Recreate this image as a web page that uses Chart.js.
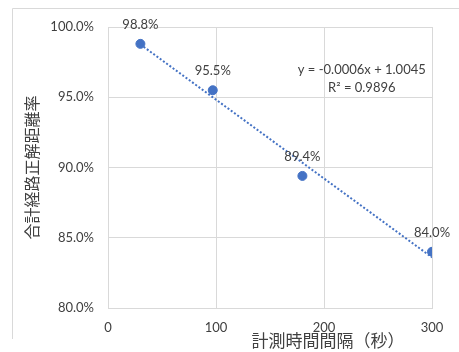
<!DOCTYPE html>
<html lang="ja">
<head>
    <meta charset="UTF-8">
    <title>計測時間間隔と合計経路正解距離率</title>
    <script src="https://cdn.jsdelivr.net/npm/chart.js@4.4.1/dist/chart.umd.min.js"></script>
    <style type="text/css">
        body{ margin:0; background:#fff; }
        #wrap{ width:459px; height:352px; position:relative; }
    </style>
</head>
<body>
<div id="wrap"><canvas id="scatterChart" width="459" height="352"></canvas></div>
<script type="text/javascript">
    // data
    var intervals = [30, 97, 180, 300];            // 計測時間間隔（秒）
    var rates = [0.988, 0.955, 0.894, 0.840];       // 合計経路正解距離率
    var yTicks = [0.80, 0.85, 0.90, 0.95, 1.00];
    var xTicks = [0, 100, 200, 300];
    var eqnLines = ["y = -0.0006x + 1.0045", "R\u00B2 = 0.9896"];
    var xTitle = "計測時間間隔（秒）";
    var yTitle = "合計経路正解距離率";

    // linear trendline (least squares, like Excel)
    var n = intervals.length, mx = 0, my = 0;
    for (var i = 0; i < n; i++) { mx += intervals[i]; my += rates[i]; }
    mx /= n; my /= n;
    var sxy = 0, sxx = 0;
    for (var i = 0; i < n; i++) {
        sxy += (intervals[i] - mx) * (rates[i] - my);
        sxx += (intervals[i] - mx) * (intervals[i] - mx);
    }
    var slope = sxy / sxx, icpt = my - slope * mx;
    var xMin = Math.min.apply(null, intervals), xMax = Math.max.apply(null, intervals);
    var trend = [{x: xMin, y: icpt + slope * xMin}, {x: xMax, y: icpt + slope * xMax}];

    var pts = intervals.map(function(v, i){ return {x: v, y: rates[i]}; });

    var numFont = "Lato, 'Noto Sans CJK JP', sans-serif";
    var cjkFont = "'Noto Sans CJK JP', sans-serif";
    var textCol = '#404040';

    var extras = {
        id: 'extras',
        beforeDraw: function(chart) {
            var c = chart.ctx;
            c.save();
            c.strokeStyle = '#d9d9d9';
            c.lineWidth = 1;
            c.beginPath();
            c.moveTo(12.5, 339); c.lineTo(12.5, 8.5); c.lineTo(459, 8.5);
            c.stroke();
            c.restore();
        },
        afterDatasetsDraw: function(chart) {
            var c = chart.ctx, xs = chart.scales.x, ys = chart.scales.y;
            c.save();
            // data labels
            c.font = "13px " + numFont;
            c.fillStyle = textCol;
            c.textAlign = 'center';
            c.textBaseline = 'middle';
            chart.getDatasetMeta(1).data.forEach(function(p, i){
                c.fillText((rates[i] * 100).toFixed(1) + '%', p.x, p.y - 19);
            });
            // trendline equation
            var ex = xs.getPixelForValue(235), ey = ys.getPixelForValue(0.9693);
            c.fillText(eqnLines[0], ex, ey);
            c.fillText(eqnLines[1], ex, ey + 18);
            // x axis title
            c.font = "17px " + cjkFont;
            c.fillText(xTitle, 328, 341);
            c.restore();
        }
    };

    new Chart(document.getElementById('scatterChart'), {
        type: 'scatter',
        data: {
            datasets: [
                {
                    data: trend,
                    showLine: true,
                    borderColor: '#4472C4',
                    borderWidth: 2,
                    borderDash: [2, 2],
                    pointRadius: 0,
                    fill: false
                },
                {
                    data: pts,
                    backgroundColor: '#4472C4',
                    borderColor: '#4472C4',
                    pointRadius: 4.5,
                    pointHoverRadius: 4.5
                }
            ]
        },
        options: {
            responsive: false,
            animation: false,
            layout: { padding: { left: 0, right: 27, top: 27, bottom: 0 } },
            plugins: { legend: { display: false }, tooltip: { enabled: false } },
            scales: {
                x: {
                    type: 'linear',
                    min: xTicks[0], max: xTicks[xTicks.length - 1],
                    afterBuildTicks: function(s){ s.ticks = xTicks.map(function(v){ return {value: v}; }); },
                    grid: { color: '#d9d9d9', drawTicks: false },
                    border: { color: '#d9d9d9' },
                    ticks: { padding: 12, color: textCol, font: { family: numFont, size: 13 } },
                    afterFit: function(s){ s.height = 44; }
                },
                y: {
                    min: yTicks[0], max: yTicks[yTicks.length - 1],
                    afterBuildTicks: function(s){ s.ticks = yTicks.map(function(v){ return {value: v}; }); },
                    grid: { color: '#d9d9d9', drawTicks: false },
                    border: { color: '#d9d9d9' },
                    ticks: {
                        padding: 14, color: textCol, font: { family: numFont, size: 13 },
                        callback: function(v){ return (v * 100).toFixed(1) + '%'; }
                    },
                    title: {
                        display: true, text: yTitle, color: textCol,
                        font: { family: cjkFont, size: 16 },
                        padding: { top: 22, bottom: 0 }
                    },
                    afterFit: function(s){ s.width = 108; }
                }
            }
        },
        plugins: [extras]
    });
</script>
</body>
</html>
